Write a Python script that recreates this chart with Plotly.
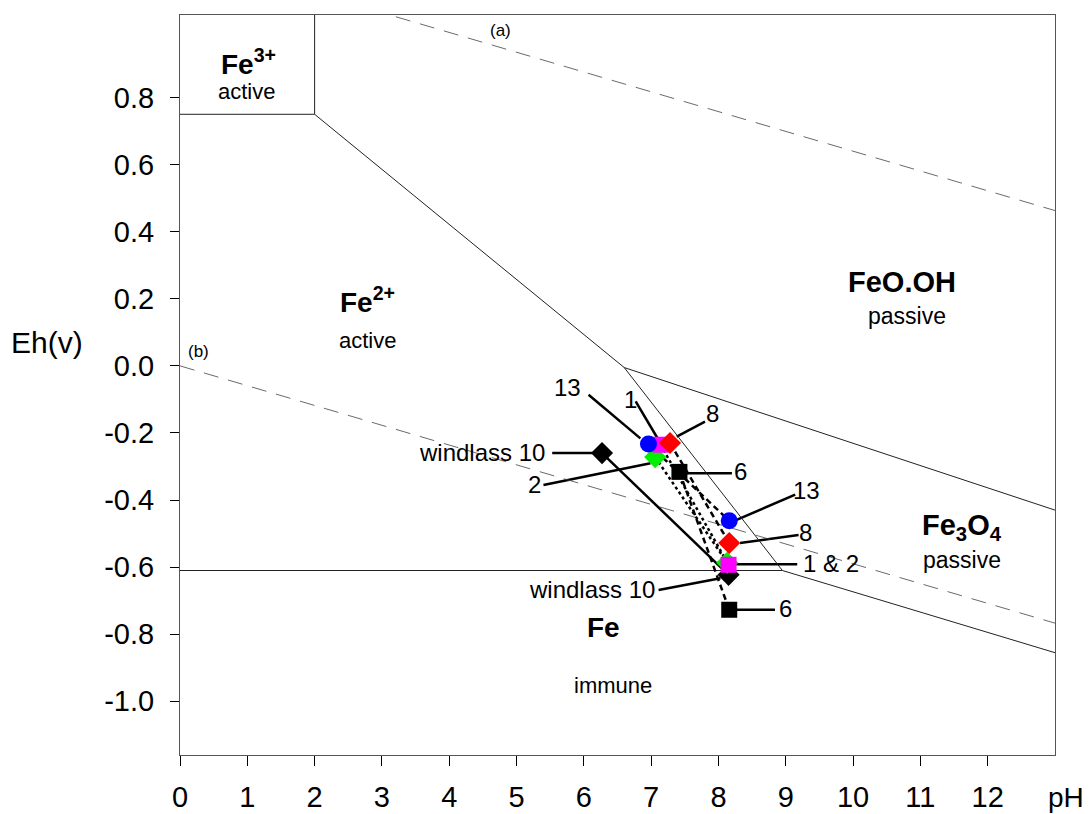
import plotly.graph_objects as go

# ---- Axis ticks -------------------------------------------------------------
ph_ticks = [0, 1, 2, 3, 4, 5, 6, 7, 8, 9, 10, 11, 12]
ph_tick_text = ["0", "1", "2", "3", "4", "5", "6", "7", "8", "9", "10", "11", "12"]
eh_ticks = [-1.0, -0.8, -0.6, -0.4, -0.2, 0.0, 0.2, 0.4, 0.6, 0.8]
eh_tick_text = ["-1.0", "-0.8", "-0.6", "-0.4", "-0.2", "0.0", "0.2", "0.4", "0.6", "0.8"]

# ---- Stability-field boundaries (pH, Eh) -----------------------------------
fe3_vertical_ph = [2.0, 2.0]
fe3_vertical_eh = [1.2, 0.75]
fe3_horizontal_ph = [0.0, 2.0]
fe3_horizontal_eh = [0.75, 0.75]
fe2_feooh_ph = [2.0, 6.6]
fe2_feooh_eh = [0.75, -0.005]
fe2_fe3o4_ph = [6.6, 8.95]
fe2_fe3o4_eh = [-0.005, -0.61]
feooh_fe3o4_ph = [6.6, 13.0]
feooh_fe3o4_eh = [-0.005, -0.43]
fe_fe2_ph = [0.0, 8.95]
fe_fe2_eh = [-0.61, -0.61]
fe_fe3o4_ph = [8.95, 13.0]
fe_fe3o4_eh = [-0.61, -0.855]

# Water stability lines (a) and (b)
water_a_ph = [0.0, 13.0]
water_a_eh = [1.23, 0.463]
water_b_ph = [0.0, 13.0]
water_b_eh = [0.0, -0.767]

# ---- Measured samples: [upper, lower] --------------------------------------
s13_ph = [6.96, 8.16]
s13_eh = [-0.233, -0.462]
s1_ph = [7.14, 8.15]
s1_eh = [-0.235, -0.593]
s8_ph = [7.28, 8.16]
s8_eh = [-0.230, -0.528]
s2_ph = [7.06, 8.13]
s2_eh = [-0.272, -0.587]
s6_ph = [7.42, 8.16]
s6_eh = [-0.316, -0.727]
w10_ph = [6.27, 8.15]
w10_eh = [-0.260, -0.623]

FONT = "Arial, Liberation Sans, sans-serif"
fig = go.Figure()


def seg(xs, ys, dash="solid", width=1.0, color="#111"):
    fig.add_trace(go.Scatter(x=xs, y=ys, mode="lines",
                             line=dict(color=color, width=width, dash=dash),
                             hoverinfo="skip", showlegend=False))


# field boundaries
for xs, ys in [(fe3_vertical_ph, fe3_vertical_eh), (fe3_horizontal_ph, fe3_horizontal_eh),
               (fe2_feooh_ph, fe2_feooh_eh), (fe2_fe3o4_ph, fe2_fe3o4_eh),
               (feooh_fe3o4_ph, feooh_fe3o4_eh), (fe_fe2_ph, fe_fe2_eh),
               (fe_fe3o4_ph, fe_fe3o4_eh)]:
    seg(xs, ys, width=1.0, color="#222")

# water lines
seg(water_a_ph, water_a_eh, dash="15px,10px", width=0.8, color="#444")
seg(water_b_ph, water_b_eh, dash="15px,10px", width=0.8, color="#444")

# sample paths (upper -> lower)
samples = [
    # name, ph, eh, symbol, colour, size, path dash
    ("windlass 10", w10_ph, w10_eh, "diamond", "black", 17, "solid"),
    ("2", s2_ph, s2_eh, "diamond", "#00ee00", 17, "dot"),
    ("1", s1_ph, s1_eh, "square", "#ff00ff", 16, "dot"),
    ("13", s13_ph, s13_eh, "circle", "#0000ff", 17, "6px,4px"),
    ("8", s8_ph, s8_eh, "diamond", "#ff0000", 17, "6px,4px"),
    ("6", s6_ph, s6_eh, "square", "black", 16, "6px,4px"),
]
for name, xs, ys, sym, col, size, dash in samples:
    seg(xs, ys, dash=dash, width=2.5, color="black")
for name, xs, ys, sym, col, size, dash in samples:
    fig.add_trace(go.Scatter(x=xs, y=ys, mode="markers", name=name,
                             marker=dict(symbol=sym, color=col, size=size, line=dict(width=0)),
                             showlegend=False))

# ---- Leader lines and sample labels ----------------------------------------
labels = [
    # text, leader start, leader end, text position, anchor
    ("13", (6.07, -0.086), (6.84, -0.216), (5.76, -0.063), "center"),
    ("1", (6.77, -0.106), (7.11, -0.221), (6.69, -0.101), "center"),
    ("8", (7.80, -0.166), (7.38, -0.211), (7.91, -0.143), "center"),
    ("windlass 10", (5.53, -0.26), (6.27, -0.26), (5.45, -0.259), "right"),
    ("2", (5.40, -0.355), (6.99, -0.29), (5.26, -0.355), "center"),
    ("6", (7.53, -0.32), (8.2, -0.32), (8.32, -0.316), "center"),
    ("13", (8.27, -0.459), (9.14, -0.384), (9.31, -0.37), "center"),
    ("8", (8.32, -0.528), (9.19, -0.504), (9.30, -0.498), "center"),
    ("1 &amp; 2", (8.22, -0.591), (9.17, -0.591), (9.22, -0.59), "left"),
    ("windlass 10", (7.11, -0.668), (8.03, -0.633), (7.08, -0.668), "right"),
    ("6", (8.27, -0.727), (8.84, -0.727), (8.99, -0.724), "center"),
]
for text, p0, p1, pt, anchor in labels:
    fig.add_shape(type="line", x0=p0[0], y0=p0[1], x1=p1[0], y1=p1[1],
                  line=dict(color="black", width=2.5), layer="below")
    fig.add_annotation(x=pt[0], y=pt[1], text=text, showarrow=False,
                       xanchor=anchor, yanchor="middle",
                       font=dict(family=FONT, size=24, color="black"))

# ---- Field names ------------------------------------------------------------
fields = [
    ("<b>Fe<sup>3+</sup></b>", 1.02, 0.905, 28),
    ("active", 0.99, 0.817, 22),
    ("<b>Fe<sup>2+</sup></b>", 2.78, 0.195, 28),
    ("active", 2.78, 0.077, 22),
    ("<b>FeO.OH</b>", 10.72, 0.25, 29),
    ("passive", 10.80, 0.149, 23),
    ("<b>Fe<sub>3</sub>O<sub>4</sub></b>", 11.62, -0.48, 29),
    ("passive", 11.62, -0.578, 23),
    ("<b>Fe</b>", 6.29, -0.781, 28),
    ("immune", 6.44, -0.954, 22),
    ("(a)", 4.76, 1.0, 17),
    ("(b)", 0.28, 0.042, 17),
]
for text, x, y, size in fields:
    fig.add_annotation(x=x, y=y, text=text, showarrow=False,
                       xanchor="center", yanchor="middle",
                       font=dict(family=FONT, size=size, color="black"))

# axis titles placed beside the tick labels
fig.add_annotation(x=1.0126, y=-0.058, xref="paper", yref="paper", text="pH",
                   showarrow=False, xanchor="center", yanchor="middle",
                   font=dict(family=FONT, size=28, color="black"))
fig.add_annotation(x=-0.152, y=0.557, xref="paper", yref="paper", text="Eh(v)",
                   showarrow=False, xanchor="center", yanchor="middle",
                   font=dict(family=FONT, size=30, color="black"))

fig.update_layout(
    width=1090, height=814,
    margin=dict(l=180, r=35, t=15, b=59, autoexpand=False),
    paper_bgcolor="white", plot_bgcolor="white",
    showlegend=False,
    font=dict(family=FONT, color="black"),
)
fig.update_xaxes(range=[0, 13], tickvals=ph_ticks, ticktext=ph_tick_text,
                 ticks="outside", ticklen=10, tickcolor="black", tickwidth=1,
                 showline=True, mirror=True, linecolor="#555", linewidth=1,
                 showgrid=False, zeroline=False, ticklabelstandoff=6, automargin=False,
                 tickfont=dict(family=FONT, size=29, color="black"))
fig.update_yaxes(range=[-1.16, 1.046], tickvals=eh_ticks, ticktext=eh_tick_text,
                 ticks="outside", ticklen=9, tickcolor="black", tickwidth=1,
                 showline=True, mirror=True, linecolor="#555", linewidth=1,
                 showgrid=False, zeroline=False, ticklabelstandoff=10, automargin=False,
                 tickfont=dict(family=FONT, size=29, color="black"))

fig.write_html("out.html")
